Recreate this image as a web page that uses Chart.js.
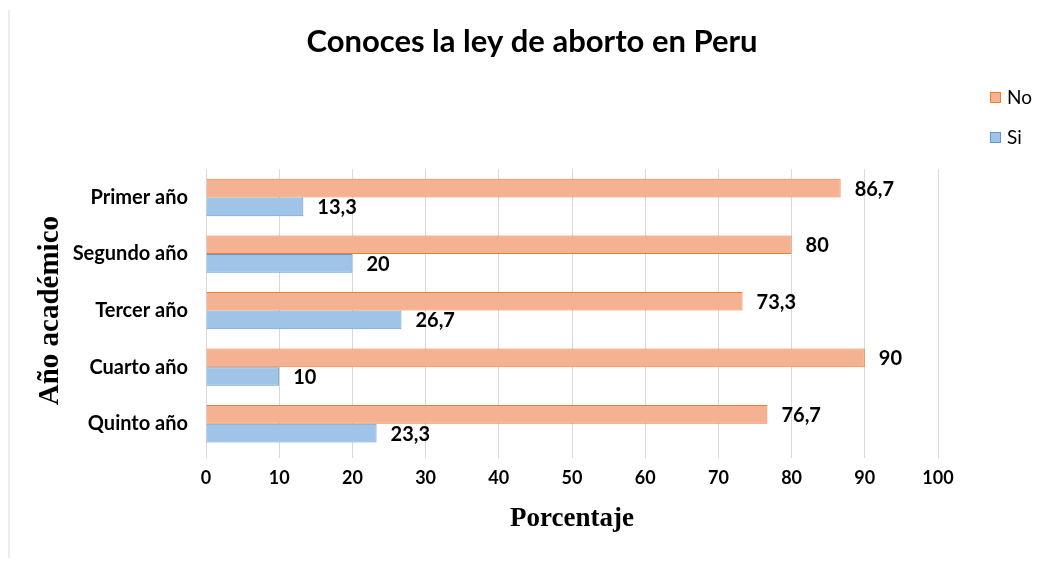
<!DOCTYPE html>
<html>
<head>
<meta charset="utf-8">
<script src="https://cdn.jsdelivr.net/npm/chart.js@4"></script>
<style>
  body { margin: 0; background: #fff; }
  #marco { position: absolute; left: 8px; top: 10px; width: 2px; height: 548px; background: #ececec; }
  canvas { position: absolute; left: 0; top: 0; }
</style>
</head>
<body>
<div id="marco"></div>
<canvas id="myChart" width="1043" height="566"></canvas>
<script>
// Datos del gráfico
const categorias = ['Primer año', 'Segundo año', 'Tercer año', 'Cuarto año', 'Quinto año'];
const valoresNo = [86.7, 80, 73.3, 90, 76.7];
const valoresSi = [13.3, 20, 26.7, 10, 23.3];
const ticksX = [0, 10, 20, 30, 40, 50, 60, 70, 80, 90, 100];

const fuenteSans = 'Lato, "Noto Sans", sans-serif';
const fuenteSerif = '"Liberation Serif", "DejaVu Serif", serif';

// etiquetas de valor al final de cada barra
const etiquetasPlugin = {
    id: 'etiquetas',
    afterDatasetsDraw(chart) {
        const ctx = chart.ctx;
        ctx.save();
        ctx.font = `bold 20px ${fuenteSans}`;
        ctx.fillStyle = '#000';
        ctx.textBaseline = 'middle';
        ctx.textAlign = 'left';
        chart.data.datasets.forEach((ds, i) => {
            chart.getDatasetMeta(i).data.forEach((bar, j) => {
                const texto = String(ds.data[j]).replace('.', ',');
                ctx.fillText(texto, bar.x + 14, bar.y + 1);
            });
        });
        ctx.restore();
    }
};

// leyenda vertical arriba a la derecha
const leyendaPlugin = {
    id: 'leyenda',
    afterDraw(chart) {
        const ctx = chart.ctx;
        ctx.save();
        ctx.font = `19px ${fuenteSans}`;
        ctx.textBaseline = 'middle';
        chart.data.datasets.forEach((ds, i) => {
            const y = 97 + i * 40;
            ctx.fillStyle = ds.backgroundColor;
            ctx.fillRect(990, y - 5, 11, 11);
            ctx.strokeStyle = ds.borderColor;
            ctx.lineWidth = 1;
            ctx.strokeRect(990.5, y - 4.5, 10, 10);
            ctx.fillStyle = '#000';
            ctx.fillText(ds.label, 1007, y + 1);
        });
        ctx.restore();
    }
};

const config = {
    type: 'bar',
    data: {
        labels: categorias,
        datasets: [
            {
                label: 'No',
                data: valoresNo,
                backgroundColor: 'rgb(245, 178, 146)',
                borderColor: 'rgb(237, 125, 49)',
                borderWidth: 1,
                categoryPercentage: 0.66,
                barPercentage: 1,
            },
            {
                label: 'Si',
                data: valoresSi,
                backgroundColor: 'rgb(160, 195, 232)',
                borderColor: 'rgb(91, 155, 213)',
                borderWidth: 1,
                categoryPercentage: 0.66,
                barPercentage: 1,
            },
        ],
    },
    options: {
        indexAxis: 'y',
        responsive: false,
        animation: false,
        devicePixelRatio: 1,
        layout: { padding: { left: 21, right: 0, top: 0, bottom: 0 } },
        plugins: {
            legend: { display: false },
            tooltip: { enabled: false },
            title: {
                display: true,
                text: 'Conoces la ley de aborto en Peru',
                color: '#000',
                font: { family: fuenteSans, size: 31, weight: 'bold' },
                padding: { top: 23, bottom: 109 },
            },
        },
        scales: {
            x: {
                min: 0,
                max: 100,
                afterBuildTicks: (scale) => { scale.ticks = ticksX.map((v) => ({ value: v })); },
                afterFit: (scale) => { scale.height = 114; },
                grid: { color: '#d9d9d9', lineWidth: 1, tickLength: 6, drawTicks: true },
                border: { display: false },
                ticks: {
                    color: '#000',
                    padding: 9,
                    font: { family: fuenteSans, size: 18, weight: 'bold' },
                },
                title: {
                    display: true,
                    text: 'Porcentaje',
                    color: '#000',
                    font: { family: fuenteSerif, size: 27, weight: 'bold' },
                    padding: { top: 0, bottom: 31 },
                },
            },
            y: {
                afterFit: (scale) => { scale.width = 185; },
                grid: { display: false, drawTicks: false },
                border: { display: false },
                ticks: {
                    color: '#000',
                    padding: 18,
                    font: { family: fuenteSans, size: 20, weight: 'bold' },
                },
                title: {
                    display: true,
                    text: 'Año académico',
                    color: '#000',
                    font: { family: fuenteSerif, size: 29, weight: 'bold' },
                    padding: { top: 12, bottom: 0 },
                },
            },
            // eje vacío a la derecha para dejar el espacio de la leyenda
            derecha: {
                axis: 'y',
                position: 'right',
                afterFit: (scale) => { scale.width = 105; },
                grid: { display: false, drawTicks: false },
                border: { display: false },
                ticks: { display: false },
            },
        },
    },
    plugins: [etiquetasPlugin, leyendaPlugin],
};

const myChart = new Chart(document.getElementById('myChart'), config);
</script>
</body>
</html>
